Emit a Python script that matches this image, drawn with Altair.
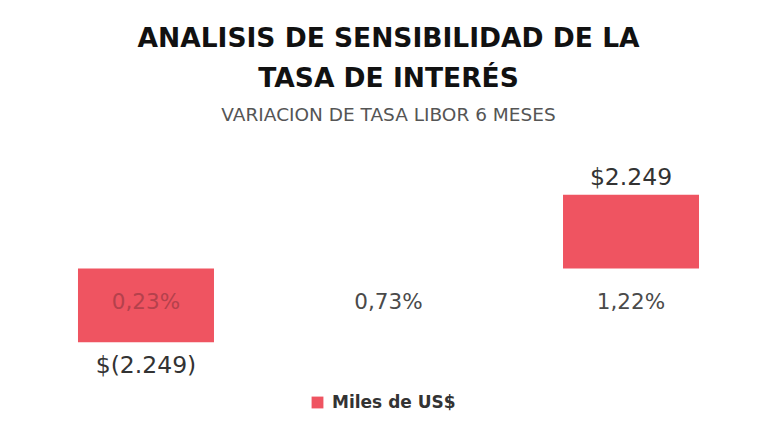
import altair as alt
import pandas as pd

categories = ["0,23%", "0,73%", "1,22%"]
values = [-2249, 0, 2249]
value_labels = ["$(2.249)", "", "$2.249"]
series_name = "Miles de US$"

df = pd.DataFrame({
    "cat": categories,
    "value": values,
    "label": value_labels,
    "serie": [series_name] * len(categories),
})

FONT = "DejaVu Sans"
BAR = "#ef5461"

x = alt.X("cat:N", sort=categories, axis=None,
          scale=alt.Scale(paddingInner=0.44, paddingOuter=0.256))
yscale = alt.Scale(domain=[-3000, 3000], nice=False, zero=True)

base = alt.Chart(df).encode(x=x)

bars = base.mark_bar(size=136).encode(
    y=alt.Y("value:Q", scale=yscale, axis=None),
    color=alt.Color("serie:N", scale=alt.Scale(range=[BAR]),
                    legend=alt.Legend(title=None, orient="none", legendX=293, legendY=224,
                                      symbolType="square", symbolSize=140,
                                      labelFont=FONT, labelFontSize=17, labelColor="#333333",
                                      labelFontWeight="bold", symbolStrokeWidth=0,
                                      labelOffset=6)),
)

cat_labels = base.mark_text(font=FONT, fontSize=21.5, dy=34, baseline="middle").encode(
    y=alt.datum(0, scale=yscale),
    text="cat:N",
    color=alt.condition("datum.value < 0", alt.value("#b4414c"), alt.value("#4a4a4a")),
)

pos_labels = base.transform_filter("datum.value > 0").mark_text(
    font=FONT, fontSize=23.5, dy=-17, baseline="middle", color="#333333"
).encode(y=alt.Y("value:Q", scale=yscale), text="label:N")

neg_labels = base.transform_filter("datum.value < 0").mark_text(
    font=FONT, fontSize=23.5, dy=24, baseline="middle", color="#333333"
).encode(y=alt.Y("value:Q", scale=yscale), text="label:N")

chart = alt.layer(bars, cat_labels, pos_labels, neg_labels).properties(
    width=745,
    height=197,
    autosize=alt.AutoSizeParams(type="none"),
    padding={"left": 16, "top": 170, "right": 0, "bottom": 58},
    background="white",
    title=alt.TitleParams(
        text=["ANALISIS DE SENSIBILIDAD DE LA", "TASA DE INTERÉS"],
        subtitle="VARIACION DE TASA LIBOR 6 MESES",
        font=FONT, fontSize=26.5, fontWeight="bold", color="#111111",
        lineHeight=40,
        subtitleFont=FONT, subtitleFontSize=18.5, subtitleColor="#555555",
        subtitlePadding=14,
        anchor="middle", offset=41,
    ),
).configure_view(stroke=None)

chart.save("out.html", embed_options={"renderer": "svg", "actions": False})
